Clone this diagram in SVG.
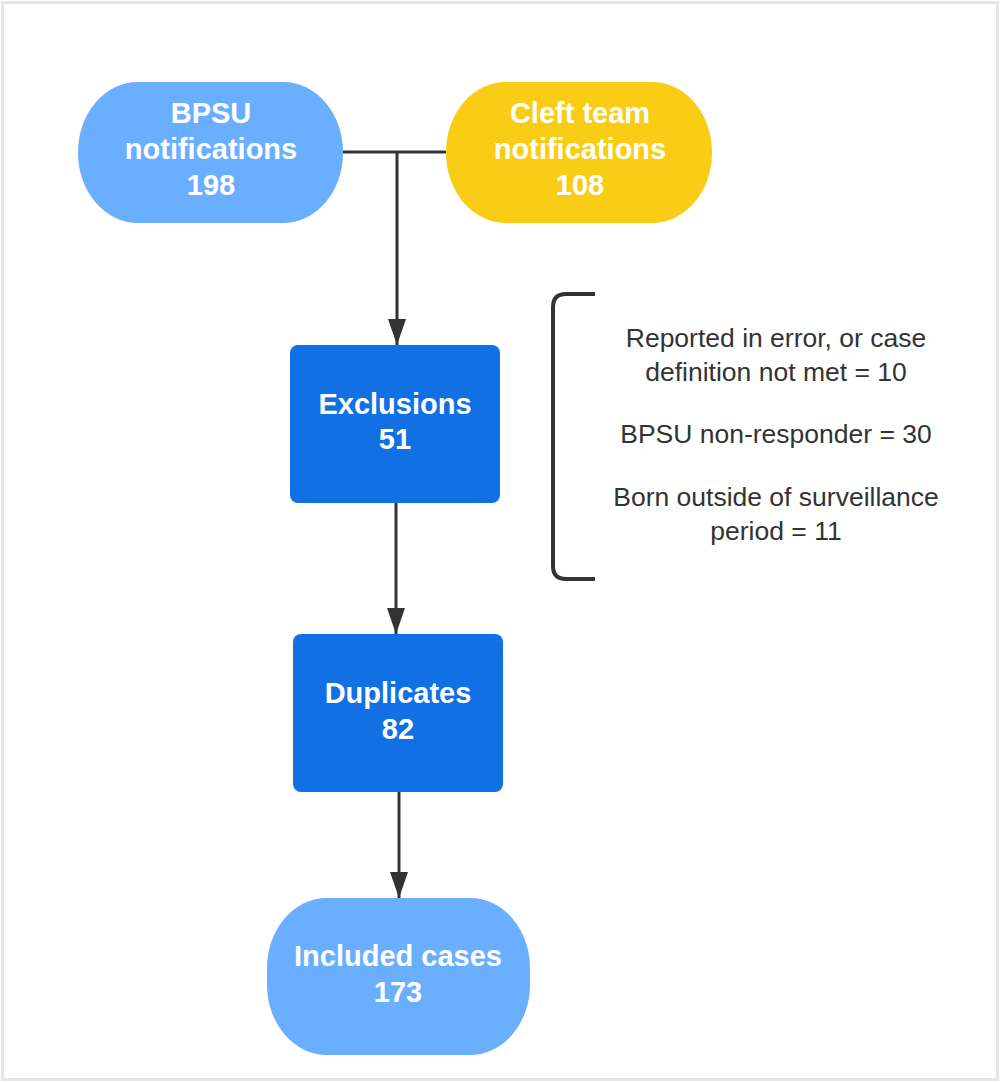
<svg xmlns="http://www.w3.org/2000/svg" width="1000" height="1082" viewBox="0 0 1000 1082">
<defs>
<style>
.lbl{font-family:"Liberation Sans",Arial,sans-serif;font-weight:bold;font-size:29px;fill:#ffffff;text-anchor:middle}
.note{font-family:"Liberation Sans",Arial,sans-serif;font-size:26.5px;fill:#333333;text-anchor:middle}
.ln{stroke:#333333;stroke-width:3;fill:none}
</style>
<marker id="arr" markerWidth="26" markerHeight="18" refX="26" refY="9" orient="auto" markerUnits="userSpaceOnUse" viewBox="0 0 26 18">
<path d="M0 0 L26 9 L0 18 Z" fill="#333333"/>
</marker>
</defs>
<rect x="2.5" y="2.5" width="995" height="1077" fill="#ffffff" stroke="#e6e6e6" stroke-width="3"/>
<g id="connectors">
<path class="ln" d="M343 152 H446"/>
<path class="ln" d="M397 152 V345" marker-end="url(#arr)"/>
<path class="ln" d="M396 503 V634" marker-end="url(#arr)"/>
<path class="ln" d="M399 792 V898" marker-end="url(#arr)"/>
</g>
<g id="bpsu">
<rect x="78" y="82" width="265" height="141" rx="60" ry="70" fill="#6AAFFF"/>
<text class="lbl" x="211" y="123">BPSU</text>
<text class="lbl" x="211" y="159">notifications</text>
<text class="lbl" x="211" y="195">198</text>
</g>
<g id="cleft">
<rect x="446" y="82" width="266" height="141" rx="60" ry="70" fill="#F9CD16"/>
<text class="lbl" x="580" y="123">Cleft team</text>
<text class="lbl" x="580" y="159">notifications</text>
<text class="lbl" x="580" y="195">108</text>
</g>
<g id="exclusions">
<rect x="290" y="345" width="210" height="158" rx="8" fill="#1170E4"/>
<text class="lbl" x="395" y="414">Exclusions</text>
<text class="lbl" x="395" y="449">51</text>
</g>
<g id="duplicates">
<rect x="293" y="634" width="210" height="158" rx="8" fill="#1170E4"/>
<text class="lbl" x="398" y="703">Duplicates</text>
<text class="lbl" x="398" y="739">82</text>
</g>
<g id="included">
<rect x="267" y="898" width="263" height="157" rx="60" ry="70" fill="#6AAFFF"/>
<text class="lbl" x="398" y="966">Included cases</text>
<text class="lbl" x="398" y="1002">173</text>
</g>
<g id="exclusion-details">
<path d="M595 294 H566 Q553 294 553 307 V566 Q553 579 566 579 H595" stroke="#333333" stroke-width="4" fill="none"/>
<text class="note" x="776" y="347">Reported in error, or case</text>
<text class="note" x="776" y="381">definition not met = 10</text>
<text class="note" x="776" y="443">BPSU non-responder = 30</text>
<text class="note" x="776" y="506">Born outside of surveillance</text>
<text class="note" x="776" y="540">period = 11</text>
</g>
</svg>
